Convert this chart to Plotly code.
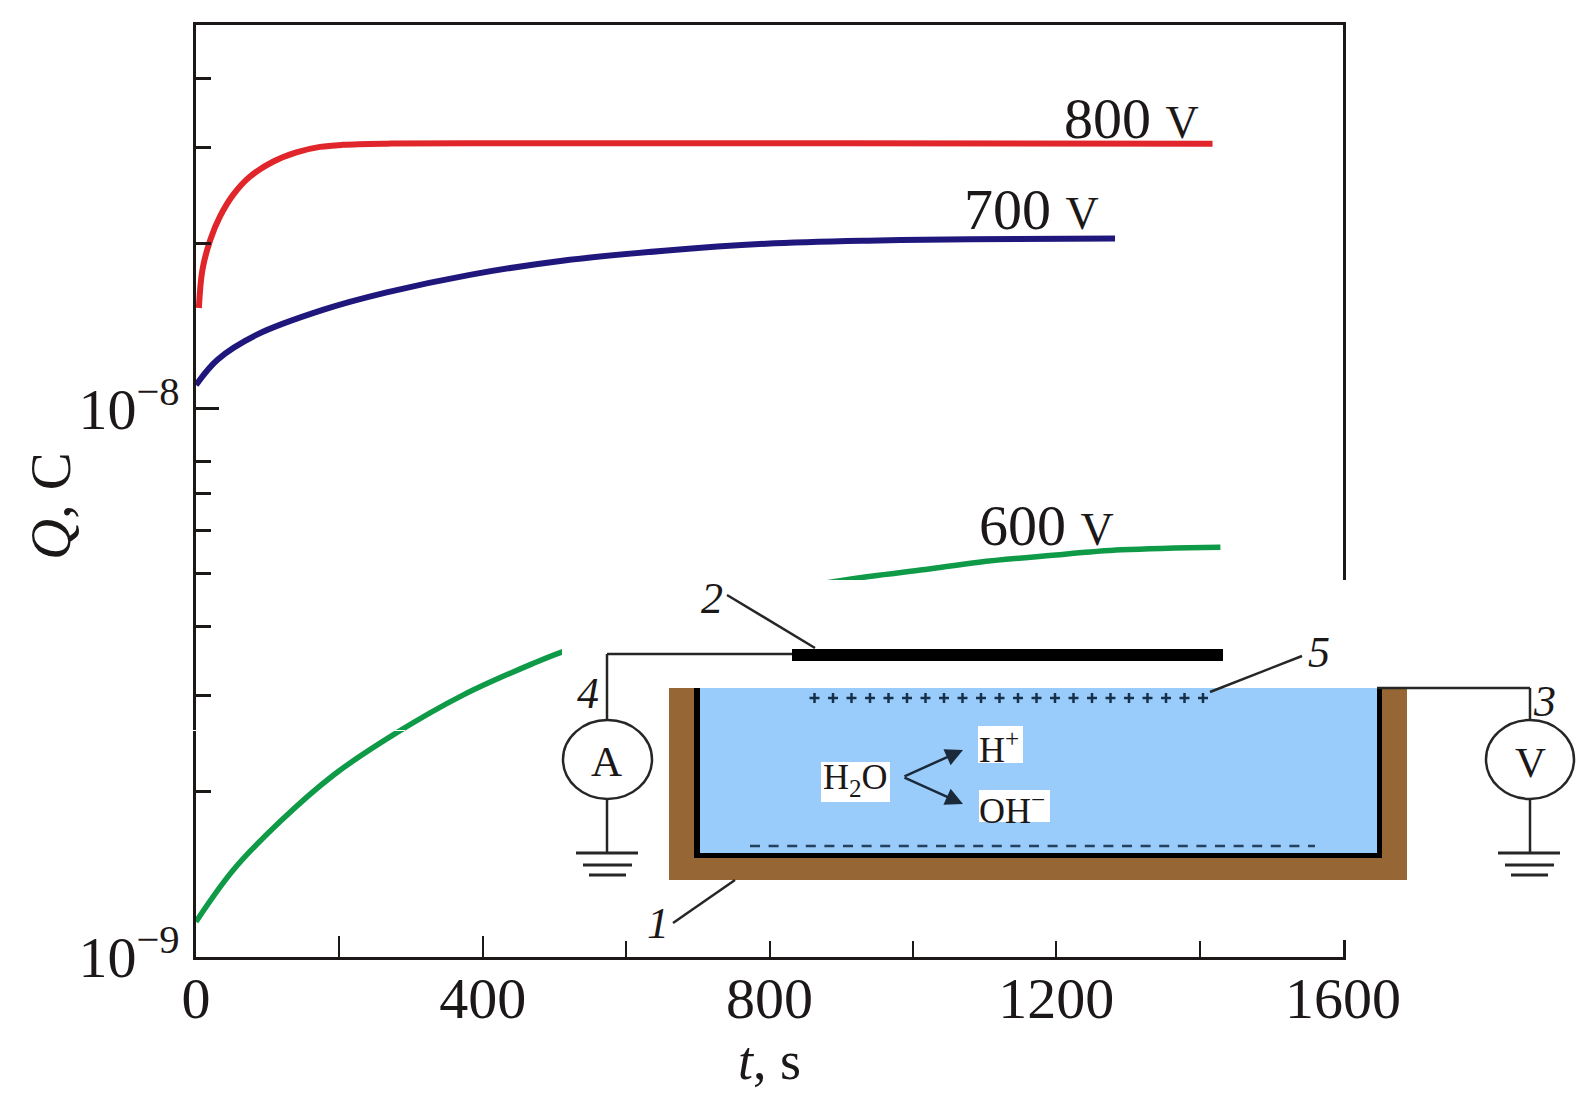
import plotly.graph_objects as go

W, H = 1594, 1103

t_800 = [4, 9, 20, 33.5, 52, 75, 108, 140, 173, 205, 266, 382, 900, 1418]
q_800 = [1.527e-8, 1.793e-8, 2.034e-8, 2.243e-8, 2.458e-8, 2.65e-8, 2.825e-8, 2.936e-8, 3.004e-8, 3.03e-8, 3.045e-8,
         3.05e-8, 3.05e-8, 3.045e-8]

t_700 = [0, 30, 85, 178, 266, 382, 511, 653, 795, 937, 1080, 1282]
q_700 = [1.105e-8, 1.229e-8, 1.365e-8, 1.516e-8, 1.63e-8, 1.755e-8, 1.862e-8, 1.942e-8, 2.0e-8, 2.026e-8, 2.037e-8, 2.045e-8]

t_600 = [0, 52, 117, 192, 275, 373, 471, 512, 633, 759, 875, 942, 1017, 1092, 1191, 1291, 1429]
q_600 = [1.16e-9, 1.441e-9, 1.765e-9, 2.148e-9, 2.542e-9, 3.007e-9, 3.435e-9, 3.607e-9, 4.05e-9, 4.45e-9, 4.80e-9,
         4.95e-9, 5.09e-9, 5.25e-9, 5.40e-9, 5.53e-9, 5.592e-9]

x_ticks = [0, 200, 400, 600, 800, 1000, 1200, 1400, 1600]
x_labels = ["0", "", "400", "", "800", "", "1200", "", "1600"]
x_long_ticks = [200, 400]
y_ticks = [1e-9, 1e-8]
y_labels = ["10<sup>\u22129</sup>", "10<sup>\u22128</sup>"]
y_minor_ticks = [2e-9, 3e-9, 4e-9, 5e-9, 6e-9, 7e-9, 8e-9, 2e-8, 3e-8, 4e-8]

INK = "#1c1818"
WIRE = "#262626"
FONT = "Liberation Serif"


def px(x):
    return x / W


def py(y):
    return 1 - y / H


def rect(x0, y0, x1, y1, color):
    return dict(type="rect", xref="paper", yref="paper", x0=px(x0), x1=px(x1), y0=py(y0), y1=py(y1),
                fillcolor=color, line_width=0)


def line(x0, y0, x1, y1, width=2.5, color=WIRE):
    return dict(type="line", xref="paper", yref="paper", x0=px(x0), x1=px(x1), y0=py(y0), y1=py(y1),
                line=dict(color=color, width=width))


def circle(x0, y0, x1, y1):
    return dict(type="circle", xref="paper", yref="paper", x0=px(x0), x1=px(x1), y0=py(y0), y1=py(y1),
                fillcolor="white", line=dict(color=WIRE, width=2.5))


def label(text, x, y, size, angle=0):
    return dict(text=text, xref="paper", yref="paper", x=px(x), y=py(y), showarrow=False, textangle=angle,
                xanchor="center", yanchor="middle", font=dict(family=FONT, size=size, color=INK))


def arrow(x, y, ax, ay):
    return dict(text="", xref="paper", yref="paper", x=px(x), y=py(y), ax=ax, ay=ay, showarrow=True,
                arrowhead=2, arrowsize=1.4, arrowwidth=2.5, arrowcolor="#1b2a3a")


fig = go.Figure()
fig.add_trace(go.Scatter(x=t_600, y=q_600, mode="lines", line=dict(color="#0f9a48", width=5.5, shape="spline")))
fig.add_trace(go.Scatter(x=t_700, y=q_700, mode="lines", line=dict(color="#20177c", width=6, shape="spline")))
fig.add_trace(go.Scatter(x=t_800, y=q_800, mode="lines", line=dict(color="#e0262a", width=6, shape="spline")))

# inset scheme, everything below is in page pixels
shapes = [
    rect(190, 730, 197, 731, "white"),
    rect(395, 730, 405, 731, "white"),
    rect(562, 580, 1360, 940, "white"),
    rect(1340, 580, 1594, 900, "white"),
    rect(669, 688, 1407, 880, "#966635"),
    rect(694, 688, 1382, 858, "black"),
    rect(700, 688, 1377, 853, "#99cbfb"),
    rect(792, 649, 1223, 661, "black"),
    rect(821, 762, 890, 802, "white"),
    rect(978, 726, 1023, 763, "white"),
    rect(979, 790, 1050, 822, "white"),
    line(607, 654, 792, 654),
    line(607, 654, 607, 720),
    line(607, 799, 607, 853),
    line(576, 853, 638, 853, 3),
    line(583, 865, 632, 865, 3),
    line(589, 875, 626, 875, 3),
    line(1377, 688, 1530, 688),
    line(1530, 688, 1530, 720),
    line(1530, 799, 1530, 853),
    line(1498, 853, 1560, 853, 3),
    line(1505, 865, 1554, 865, 3),
    line(1511, 875, 1548, 875, 3),
    circle(563, 720, 652, 799),
    circle(1486, 720, 1574, 799),
    line(727, 595, 815, 648),
    line(1302, 656, 1210, 692),
    line(735, 880, 673, 923),
    dict(type="line", xref="paper", yref="paper", x0=px(750), x1=px(1315), y0=py(846), y1=py(846),
         line=dict(color="#23415c", width=2.5, dash="10px,8.6px")),
]
for i in range(22):
    cx = 814.5 + i * 18.5
    shapes.append(line(cx - 5, 698, cx + 5, 698, 2.5, "#17304a"))
    shapes.append(line(cx, 693, cx, 703, 2.5, "#17304a"))

V_SMALL = '<span style="font-size:46px">V</span>'
annotations = [
    label("800 " + V_SMALL, 1131, 119, 58),
    label("700 " + V_SMALL, 1031, 209, 58),
    label("600 " + V_SMALL, 1046, 525, 58),
    label("<i>Q</i>, C", 50, 506, 57, -90),
    label("<i>2</i>", 712, 598, 44),
    label("<i>4</i>", 588, 693, 44),
    label("<i>3</i>", 1544, 701, 44),
    label("<i>5</i>", 1319, 652, 44),
    label("<i>1</i>", 658, 923, 44),
    label("A", 606, 761, 43),
    label("V", 1530, 762, 43),
    label("H<sub>2</sub>O", 855, 779, 36),
    label("H<sup>+</sup>", 999, 747, 36),
    label("OH<sup>\u2212</sup>", 1012, 808, 36),
    arrow(963, 750, -60, 27),
    arrow(963, 804, -60, -27),
]

fig.update_layout(
    width=W, height=H, showlegend=False, paper_bgcolor="white", plot_bgcolor="white",
    margin=dict(l=0, r=0, t=0, b=0), shapes=shapes, annotations=annotations,
    font=dict(family=FONT, color=INK),
    xaxis=dict(
        domain=[196 / W, 1343 / W], range=[0, 1600], showgrid=False, zeroline=False, automargin=False,
        showline=True, mirror=True, linecolor=INK, linewidth=2.5,
        tickmode="array", tickvals=x_ticks, ticktext=x_labels, ticks="inside", ticklen=16, tickwidth=2,
        tickcolor=INK, tickangle=0, tickfont=dict(family=FONT, size=58, color=INK), ticklabelstandoff=-11,
        minor=dict(tickmode="array", tickvals=x_long_ticks, ticks="inside", ticklen=21, tickwidth=2, tickcolor=INK),
        title=dict(text="<i>t</i>, s", font=dict(family=FONT, size=54, color=INK), standoff=0),
    ),
    yaxis=dict(
        domain=[1 - 957 / H, 1 - 25 / H], type="log", range=[-9, -7.3], showgrid=False, zeroline=False, automargin=False,
        showline=True, mirror=True, linecolor=INK, linewidth=2.5,
        tickmode="array", tickvals=y_ticks, ticktext=y_labels, ticks="inside", ticklen=23, tickwidth=2.5,
        tickcolor=INK, tickfont=dict(family=FONT, size=58, color=INK), ticklabelstandoff=2,
        minor=dict(tickmode="array", tickvals=y_minor_ticks, ticks="inside", ticklen=15, tickwidth=2.5, tickcolor=INK),
    ),
)

fig.write_html("out.html", config=dict(displayModeBar=False), post_script="document.body.style.margin = '0';")
